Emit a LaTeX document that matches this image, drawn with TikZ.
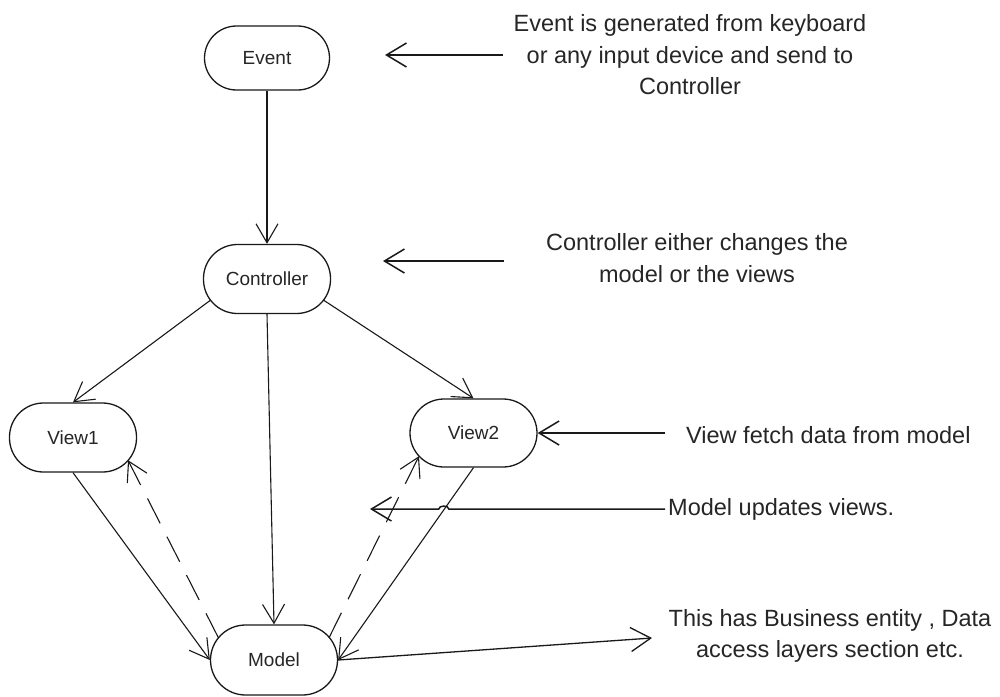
\documentclass[tikz,border=0pt]{standalone}
\usepackage{fontspec}
\setmainfont{Liberation Sans}
\usetikzlibrary{arrows.meta,calc}
\begin{document}
\begin{tikzpicture}[x=1pt,y=-1pt,
  box/.style={draw=black!90, line width=1.3pt, rectangle, rounded corners=34pt,
    minimum width=127pt, minimum height=69pt, inner sep=0pt,
    font=\fontsize{19}{23}\selectfont, text=black!85},
  conn/.style={line width=1.1pt, draw=black!90,
    -{Straight Barb[length=19pt,width=22pt]}},
  dconn/.style={conn, dash pattern=on 28pt off 15pt},
  note/.style={font=\fontsize{23.5}{31.5}\selectfont, text=black!85, align=center, inner sep=0pt},
  notearrow/.style={line width=1.5pt, draw=black!90,
    -{Straight Barb[length=20pt,width=24pt]}}
]
\useasboundingbox (0,0) rectangle (1000,696);

% nodes
\node[box, minimum width=125pt, minimum height=64pt, rounded corners=32pt] (ev) at (267,58) {Event};
\node[box] (ctrl) at (267,279) {Controller};
\node[box] (v1) at (73,437.5) {View1};
\node[box, minimum height=68pt] (v2) at (473.5,433) {View2};
\node[box, minimum height=70pt, rounded corners=35pt] (mdl) at (274,660) {Model};

% annotations
\node[note] (n1) at (690,55) {Event is generated from keyboard\\or any input device and send to\\Controller};
\node[note] (n2) at (697,258) {Controller either changes the\\model or the views};
\node[note, anchor=west] (n3) at (686,435) {View fetch data from model};
\node[note, anchor=west] (n4) at (668,509) {Model updates views.};
\node[note] (n5) at (830,636) {This has Business entity , Data\\access layers section etc.};

% free ends of annotation arrows
\coordinate (a1s) at (503,55);  \coordinate (a1e) at (385,55);
\coordinate (a2s) at (504,261); \coordinate (a2e) at (383,261);
\coordinate (a3s) at (665,433);
\coordinate (a4s) at (665,509); \coordinate (a4e) at (370,509);
\coordinate (a5e) at (652,638);

% connectors
\draw[conn] (ev) -- (ctrl);
\draw[conn] ($(ctrl.center)+(-56.3,21)$) -- (v1.north);
\draw[conn] ($(ctrl.center)+(56.3,21)$) -- (v2.north);
\draw[conn] (ctrl.south) -- (mdl.north);
\draw[conn] (v1.south) -- (mdl.west);
\draw[conn] (v2.south) -- (mdl.east);
\draw[dconn] ($(mdl.center)+(-55.3,-21.7)$) -- ($(v1.center)+(55,22.7)$);
\draw[dconn] ($(mdl.center)+(55,-22.2)$) -- ($(v2.center)+(-54.5,23.1)$);

% annotation arrows
\draw[notearrow] (a1s) -- (a1e);
\draw[notearrow] (a2s) -- (a2e);
\draw[notearrow] (a3s) -- (v2.east);
\draw[notearrow] (a4s) -- (448.8,509) to[out=90,in=90] (438.8,509) -- (a4e);
\draw[notearrow, line width=1.3pt] (mdl.east) -- (a5e);
\end{tikzpicture}
\end{document}
